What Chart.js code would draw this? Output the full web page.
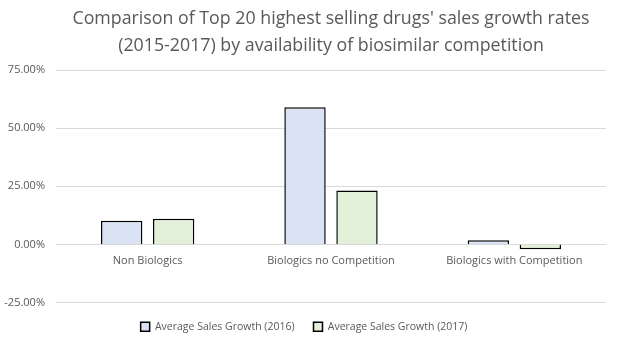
<!DOCTYPE html>
<html>
<head>
<meta charset="utf-8">
<script src="https://cdn.jsdelivr.net/npm/chart.js@4/dist/chart.umd.min.js"></script>
<style>
  html, body { margin: 0; padding: 0; background: #fff; }
  #wrap { width: 620px; height: 346px; }
</style>
</head>
<body>
<div id="wrap"><canvas id="chartCanvas"></canvas></div>
<script>
const categories = ["Non Biologics", "Biologics no Competition", "Biologics with Competition"];
const growth2016 = [0.102, 0.590, 0.018];
const growth2017 = [0.110, 0.232, -0.021];
const seriesNames = ["Average Sales Growth (2016)", "Average Sales Growth (2017)"];
const titleLines = ["Comparison of Top 20 highest selling drugs' sales growth rates", "(2015-2017) by availability of biosimilar competition"];

const grey = "#595959";
Chart.defaults.font.family = "'Open Sans', sans-serif";
Chart.defaults.color = grey;

let chart = new Chart(document.getElementById("chartCanvas"), {
    type: 'bar',
    data: {
        labels: categories,
        datasets: [{
            label: seriesNames[0],
            data: growth2016,
            backgroundColor: '#dae3f3',
            borderColor: '#000',
            borderWidth: 1.5,
            categoryPercentage: 0.567,
            barPercentage: 0.796
        }, {
            label: seriesNames[1],
            data: growth2017,
            backgroundColor: '#e2f0d9',
            borderColor: '#000',
            borderWidth: 1.5,
            categoryPercentage: 0.567,
            barPercentage: 0.796
        }]
    },
    options: {
        responsive: true,
        maintainAspectRatio: false,
        animation: false,
        layout: { padding: { left: 2, right: 14, top: 5, bottom: 4 } },
        plugins: {
            title: {
                display: true,
                fullSize: false,
                text: titleLines,
                color: grey,
                font: { size: 17.8, weight: 'normal', lineHeight: 1.52 },
                padding: { top: 0, bottom: 11 }
            },
            legend: {
                position: 'bottom',
                labels: {
                    boxWidth: 9,
                    boxHeight: 9,
                    padding: 19,
                    font: { size: 10.5 },
                    color: grey
                }
            },
            tooltip: { enabled: false }
        },
        scales: {
            x: {
                position: { y: 0 },
                grid: { display: false },
                border: { display: false },
                ticks: { font: { size: 11 }, color: grey, padding: 2 }
            },
            y: {
                min: -0.25,
                max: 0.75,
                afterFit: (scale) => { scale.width = 54; },
                grid: { color: '#d9d9d9', drawTicks: false },
                border: { display: false },
                ticks: {
                    stepSize: 0.25,
                    padding: 11,
                    font: { size: 11 },
                    color: grey,
                    callback: (v) => (v * 100).toFixed(2) + "%"
                }
            }
        }
    }
});
</script>
</body>
</html>
